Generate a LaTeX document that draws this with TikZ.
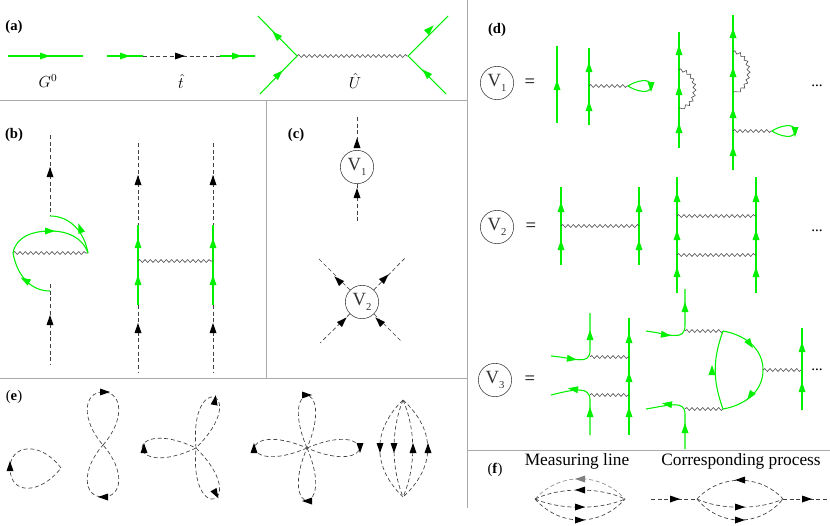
\documentclass[tikz,border=0pt]{standalone}
\usepackage{fontspec}
\setmainfont{Liberation Serif}
\usetikzlibrary{decorations.pathmorphing}
\definecolor{gr}{RGB}{0,240,0}
\definecolor{frame}{RGB}{170,170,170}
\newcommand\ar[3][black]{\fill[#1,shift={(#2)},rotate=#3] (5,0)--(-5,3.5)--(-5,-3.5)--cycle;}
\newcommand\gar[2]{\ar[gr]{#1}{#2}}
\begin{document}
\begin{tikzpicture}[x=0.75pt,y=-0.75pt,
  g/.style={draw=gr,line width=0.8pt},
  dsh/.style={black!75,line width=0.5pt,dash pattern=on 3pt off 2pt},
  wv/.style={black!70,line width=0.45pt,decorate,decoration={snake,amplitude=1.1pt,segment length=4pt}},
  fr/.style={frame,line width=0.6pt},
  lab/.style={font=\bfseries\fontsize{11}{12}\selectfont,inner sep=0},
  vc/.style={draw,black!80,circle,minimum size=25pt,inner sep=0,font=\fontsize{14}{14}\selectfont},
  txt/.style={inner sep=0,font=\fontsize{11.5}{12}\selectfont}]
\useasboundingbox (0,0) rectangle (830,525);
% frames
\draw[fr] (0,100)--(467,100);
\draw[fr] (0,378)--(467,378);
\draw[fr] (266,100)--(266,378);
\draw[fr] (467,0)--(467,508);
\draw[fr] (467,450)--(830,450);
% (a)
\node[lab] (la) at (14,27) {(a)};
\draw[g] (8,56)--(83,56); \gar{45,56}{0}
\node[txt] (tg) at (48,81) {$G^0$};
\draw[g] (107,56)--(143,56); \draw[dsh] (143,56)--(220,56); \draw[g] (220,56)--(255,56);
\gar{125,56}{0} \ar{180,56}{0} \gar{237,56}{0}
\node[txt] (tt) at (181,81) {$\hat{t}$};
\coordinate (u1) at (297,56); \coordinate (u2) at (408,56);
\draw[wv] (u1)--(u2);
\draw[g] (u1)--(258,16); \draw[g] (u1)--(260,94);
\draw[g] (u2)--(448,16); \draw[g] (u2)--(446,94);
\gar{276,35}{135} \gar{279,74}{45} \gar{430,29}{45} \gar{426,73}{135}
\node[txt] (tu) at (355,81) {$\hat{U}$};
% (b)
\node[lab] (lb) at (14,135) {(b)};
\draw[dsh] (50,135)--(50,216); \ar{50,172}{90}
\draw[wv] (13,253)--(88,253);
\draw[g] (13,253) to[out=80,in=180] (50,231) to[out=0,in=110] (88,253);
\draw[g] (88,253) to[out=100,in=0] (50,216);
\draw[g] (50,291) to[out=180,in=-80] (13,253);
\gar{50,231}{0} \gar{80,228}{110} \gar{25,280}{150}
\draw[dsh] (50,284)--(50,365); \ar{50,320}{90}
\foreach \x in {138,213}{
 \draw[dsh] (\x,143)--(\x,225); \ar{\x,180}{90}
 \draw[g] (\x,225)--(\x,305); \gar{\x,243}{90} \gar{\x,280}{90}
 \draw[dsh] (\x,305)--(\x,372); \ar{\x,328}{90}}
\draw[wv] (138,261)--(213,261);
% (c)
\node[lab] (lc) at (296,135) {(c)};
\node[vc] (c1) at (357,167) {V\raisebox{-0.5ex}{\fontsize{8}{8}\selectfont 1}};
\draw[dsh] (357,117)--(c1); \draw[dsh] (c1)--(357,222);
\ar{357,143}{90} \ar{357,193}{90}
\node[vc] (c2) at (362,302) {V\raisebox{-0.5ex}{\fontsize{8}{8}\selectfont 2}};
\draw[dsh] (c2)--(318,258); \draw[dsh] (c2)--(405,258);
\draw[dsh] (c2)--(320,343); \draw[dsh] (c2)--(402,342);
\ar{338,280}{135} \ar{385,278}{45} \ar{343,321}{45} \ar{379,321}{135}
% (d)
\node[lab] (ld) at (497,30) {(d)};
\node[vc] (d1) at (497,83) {V\raisebox{-0.5ex}{\fontsize{8}{8}\selectfont 1}};
\node[txt,font=\fontsize{14}{14}\selectfont] (eq1) at (530,83) {=};
\draw[g] (557,46)--(557,123); \gar{557,85}{90}
\draw[g] (589,48)--(589,125); \gar{589,67}{90} \gar{589,106}{90}
\draw[wv] (589,86)--(628,86);
\draw[g] (628,86) to[out=35,in=90] (651,86) to[out=-90,in=-35] (628,86); \gar{651,87}{-90}
\draw[g] (679,32)--(679,148); \gar{679,50}{90} \gar{679,90}{90} \gar{679,128}{90}
\draw[wv] (679,70) .. controls (698,72) and (698,106) .. (679,108);
\draw[g] (733,15)--(733,170); \gar{733,33}{90} \gar{733,72}{90} \gar{733,113}{90} \gar{733,151}{90}
\draw[wv] (733,52) .. controls (752,54) and (752,90) .. (733,92);
\draw[wv] (733,131)--(772,131);
\draw[g] (772,131) to[out=35,in=90] (795,131) to[out=-90,in=-35] (772,131); \gar{795,132}{-90}
\node[txt] (dt1) at (817,86) {...};
\node[vc] (d2) at (497,227) {V\raisebox{-0.5ex}{\fontsize{8}{8}\selectfont 2}};
\node[txt,font=\fontsize{14}{14}\selectfont] (eq2) at (531,227) {=};
\foreach \x in {561,639}{\draw[g] (\x,187)--(\x,265); \gar{\x,207}{90} \gar{\x,245}{90}}
\draw[wv] (561,226)--(639,226);
\foreach \x in {677,756}{\draw[g] (\x,177)--(\x,293); \gar{\x,197}{90} \gar{\x,235}{90} \gar{\x,272}{90}}
\draw[wv] (677,216)--(756,216); \draw[wv] (677,255)--(756,255);
\node[txt] (dt2) at (817,231) {...};
\node[vc] (d3) at (495,380) {V\raisebox{-0.5ex}{\fontsize{8}{8}\selectfont 3}};
\node[txt,font=\fontsize{14}{14}\selectfont] (eq3) at (530,380) {=};
\draw[g] (590,313)--(590,350) .. controls (590,366) and (575,358) .. (551,356);
\draw[g] (590,435)--(590,400) .. controls (590,386) and (575,389) .. (551,395);
\gar{572,359}{-8} \gar{573,389}{172} \gar{590,335}{90} \gar{590,412}{90}
\draw[g] (629,318)--(629,435); \gar{629,338}{90} \gar{629,377}{90} \gar{629,412}{90}
\draw[wv] (590,357)--(629,357); \draw[wv] (590,395)--(629,395);
\draw[g] (685,289)--(685,325) .. controls (685,342) and (670,334) .. (646,331);
\draw[g] (685,449)--(685,414) .. controls (685,400) and (670,405) .. (646,409);
\gar{685,307}{90} \gar{666,335}{-8} \gar{667,404}{172} \gar{685,428}{90}
\draw[wv] (685,331)--(723,331); \draw[wv] (685,409)--(723,409);
\draw[g] (723,331) to[out=-10,in=90] (763,370) to[out=-90,in=10] (723,409);
\draw[g] (723,331) to[out=-110,in=110] (723,409);
\gar{750,344}{-55} \gar{750,396}{-125} \gar{712,370}{90}
\draw[wv] (763,370)--(802,370);
\draw[g] (802,328)--(802,410); \gar{802,347}{90} \gar{802,387}{90}
\node[txt] (dt3) at (817,370) {...};
% (e)
\node[lab,font=\fontsize{11}{12}\selectfont] (le) at (14,397) {(\textbf{e})};
\draw[dsh] (61,468) .. controls (40,440) and (10,445) .. (10,468) .. controls (10,495) and (40,495) .. (61,468);
\ar{10,466}{90}
\draw[dsh] (103,445) .. controls (125,420) and (123,392) .. (103,392) .. controls (83,392) and (81,420) .. (103,445)
  .. controls (125,470) and (123,497) .. (103,497) .. controls (83,497) and (81,470) .. (103,445);
\ar{105,392}{0} \ar{103,497}{180}
\coordinate (c3) at (196,448);
\foreach \r in {180,70,-70}{\draw[dsh,shift={(c3)},rotate=\r] (0,0) .. controls (72,-34) and (72,34) .. (0,0);}
\ar{144,448}{90} \ar{215,400}{80} \ar{216,494}{-60}
\coordinate (c4) at (307,448);
\foreach \r in {0,90,180,270}{\draw[dsh,shift={(c4)},rotate=\r] (0,0) .. controls (70,-30) and (70,30) .. (0,0);}
\ar{307,395}{0} \ar{307,501}{180} \ar{254,448}{90} \ar{360,448}{-90}
\foreach \p in {372,391,416,436}{\draw[dsh] (403,400) .. controls (\p,430) and (\p,467) .. (403,497);}
\ar{380,448}{-90} \ar{394,448}{-90} \ar{413,448}{90} \ar{428,448}{90}
% (f)
\node[lab,font=\fontsize{11}{12}\selectfont] (lf) at (495,470) {(\textbf{f})};
\node[txt,font=\fontsize{13}{14}\selectfont] (ml) at (577,461) {Measuring line};
\node[txt,font=\fontsize{13}{14}\selectfont] (cp) at (741,461) {Corresponding process};
\coordinate (m1) at (535,499); \coordinate (m2) at (625,499);
\draw[dsh,black!45] (m1) .. controls (560,472) and (600,472) .. (m2);
\foreach \p in {487,510,527}{\draw[dsh] (m1) .. controls (560,\p) and (600,\p) .. (m2);}
\ar[black!50]{580,479}{180} \ar{580,490}{180} \ar{580,507}{0} \ar{580,520}{0}
\coordinate (p1) at (697,499); \coordinate (p2) at (783,499);
\draw[dsh] (651,499)--(p1); \draw[dsh] (p2)--(830,499);
\ar{675,499}{0} \ar{807,499}{0}
\foreach \p in {474,510,527}{\draw[dsh] (p1) .. controls (720,\p) and (760,\p) .. (p2);}
\ar{740,480}{180} \ar{740,507}{0} \ar{740,520}{0}
\end{tikzpicture}
\end{document}
